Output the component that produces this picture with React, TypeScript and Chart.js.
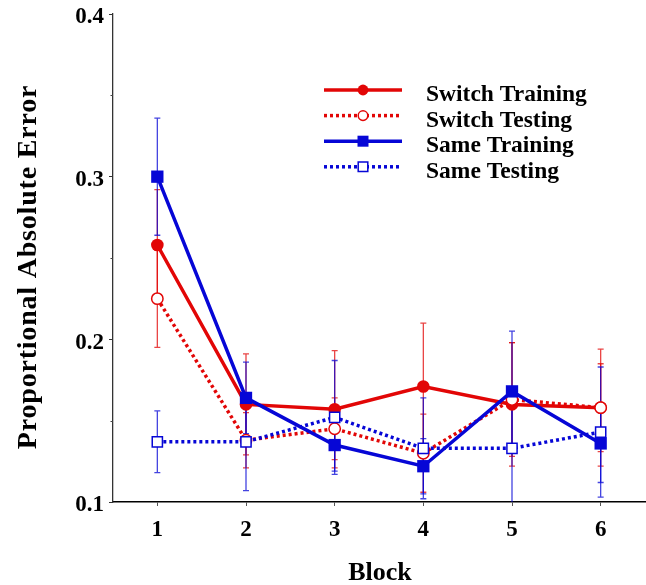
import React, { useEffect, useRef } from 'react';
import { Chart, registerables } from 'chart.js';

Chart.register(...registerables);

const blocks = [1, 2, 3, 4, 5, 6];

const switchTraining = [0.258, 0.160, 0.157, 0.171, 0.160, 0.158];
const switchTrainingErr = [0.034, 0.031, 0.036, 0.039, 0.038, 0.027];

const switchTesting = [0.225, 0.138, 0.145, 0.130, 0.163, 0.158];
const switchTestingErr = [0.030, 0.017, 0.019, 0.024, 0.035, 0.036];

const sameTraining = [0.300, 0.164, 0.135, 0.122, 0.168, 0.136];
const sameTrainingErr = [0.036, 0.022, 0.016, 0.017, 0.037, 0.024];

const sameTesting = [0.137, 0.137, 0.152, 0.133, 0.133, 0.143];
const sameTestingErr = [0.019, 0.030, 0.035, 0.031, 0.035, 0.040];

const xTickLabels = ['1', '2', '3', '4', '5', '6'];
const yTicks = [0.1, 0.2, 0.3, 0.4];
const yMinorTicks = [0.15, 0.25, 0.35];

const xTitle = 'Block';
const yTitle = 'Proportional Absolute Error';

const RED = 'rgb(226,6,6)';
const BLUE = 'rgb(6,6,214)';
const RED_BAR = 'rgba(226,6,6,0.75)';
const BLUE_BAR = 'rgba(6,6,214,0.75)';
const FONT = '"Liberation Serif", "Times New Roman", serif';

type Series = {
  label: string;
  data: number[];
  err: number[];
  color: string;
  barColor: string;
  dashed: boolean;
  filled: boolean;
  style: 'circle' | 'rect';
  order: number;
};

export default function App() {
  const ref = useRef<HTMLCanvasElement>(null);

  useEffect(() => {
    document.body.style.margin = '0';
    const series: Series[] = [
      { label: 'Switch Training', data: switchTraining, err: switchTrainingErr, color: RED, barColor: RED_BAR, dashed: false, filled: true, style: 'circle', order: 3 },
      { label: 'Switch Testing', data: switchTesting, err: switchTestingErr, color: RED, barColor: RED_BAR, dashed: true, filled: false, style: 'circle', order: 2 },
      { label: 'Same Training', data: sameTraining, err: sameTrainingErr, color: BLUE, barColor: BLUE_BAR, dashed: false, filled: true, style: 'rect', order: 1 },
      { label: 'Same Testing', data: sameTesting, err: sameTestingErr, color: BLUE, barColor: BLUE_BAR, dashed: true, filled: false, style: 'rect', order: 0 },
    ];

    const errorBars = {
      id: 'errorBars',
      beforeDatasetsDraw(chart: any) {
        const { ctx, scales, chartArea } = chart;
        const x = scales.x;
        const y = scales.y;
        ctx.save();
        ctx.lineWidth = 1.3;
        series.forEach((s) => {
          ctx.strokeStyle = s.barColor;
          blocks.forEach((b, i) => {
            const px = x.getPixelForValue(b);
            const hi = s.data[i] + s.err[i];
            const lo = s.data[i] - s.err[i];
            const top = y.getPixelForValue(hi);
            const bot = Math.min(y.getPixelForValue(lo), chartArea.bottom);
            ctx.beginPath();
            ctx.moveTo(px, top);
            ctx.lineTo(px, bot);
            ctx.moveTo(px - 3, top);
            ctx.lineTo(px + 3, top);
            if (lo >= 0.1) {
              ctx.moveTo(px - 3, bot);
              ctx.lineTo(px + 3, bot);
            }
            ctx.stroke();
          });
        });
        ctx.restore();
      },
    };

    const extras = {
      id: 'extras',
      afterDraw(chart: any) {
        const { ctx, scales, chartArea } = chart;
        const x = scales.x;
        const y = scales.y;
        ctx.save();
        // minor ticks
        ctx.strokeStyle = '#444';
        ctx.lineWidth = 1;
        yMinorTicks.forEach((v) => {
          const py = Math.round(y.getPixelForValue(v)) + 0.5;
          ctx.beginPath();
          ctx.moveTo(chartArea.left - 2.5, py);
          ctx.lineTo(chartArea.left, py);
          ctx.stroke();
        });
        ctx.fillStyle = '#000';
        ctx.textAlign = 'center';
        ctx.textBaseline = 'alphabetic';
        // x tick labels
        ctx.font = `bold 23px ${FONT}`;
        blocks.forEach((b, i) => {
          ctx.fillText(xTickLabels[i], x.getPixelForValue(b), chartArea.bottom + 33.5);
        });
        // axis titles
        ctx.font = `bold 26px ${FONT}`;
        ctx.fillText(xTitle, 380, 580);
        ctx.save();
        ctx.translate(35.5, 267);
        ctx.rotate(-Math.PI / 2);
        ctx.font = `bold 28px ${FONT}`;
        (ctx as any).letterSpacing = '0.8px';
        ctx.fillText(yTitle, 0, 0);
        ctx.restore();
        // legend
        series.forEach((s, i) => {
          const ly = 90 + i * 25.6;
          ctx.save();
          ctx.strokeStyle = s.color;
          ctx.lineWidth = 3.5;
          ctx.setLineDash(s.dashed ? [3, 3] : []);
          ctx.beginPath();
          ctx.moveTo(324, ly);
          ctx.lineTo(402, ly);
          ctx.stroke();
          ctx.setLineDash([]);
          ctx.fillStyle = s.filled ? s.color : '#fff';
          ctx.lineWidth = 1.5;
          ctx.beginPath();
          if (s.style === 'circle') {
            ctx.arc(363, ly, s.filled ? 5.4 : 4.8, 0, Math.PI * 2);
          } else {
            const h = s.filled ? 5.5 : 4.8;
            ctx.rect(363 - h, ly - h, 2 * h, 2 * h);
          }
          ctx.fill();
          if (!s.filled) ctx.stroke();
          ctx.restore();
          ctx.fillStyle = '#000';
          ctx.textAlign = 'left';
          ctx.font = `bold 23.5px ${FONT}`;
          ctx.fillText(s.label, 426, ly + 11);
        });
        ctx.restore();
      },
    };

    const chart = new Chart(ref.current as HTMLCanvasElement, {
      type: 'line',
      data: {
        datasets: series.map((s) => ({
          label: s.label,
          data: blocks.map((b, i) => ({ x: b, y: s.data[i] })),
          borderColor: s.color,
          backgroundColor: s.color,
          borderWidth: 3.5,
          borderDash: s.dashed ? [3, 3] : [],
          pointStyle: s.style,
          pointRadius: s.style === 'rect' ? (s.filled ? 8.7 : 7.2) : (s.filled ? 6.3 : 5.7),
          pointBackgroundColor: s.filled ? s.color : '#fff',
          pointBorderColor: s.color,
          pointBorderWidth: s.filled ? 0 : 1.5,
          tension: 0,
          fill: false,
          clip: false,
          order: s.order,
        })),
      },
      options: {
        responsive: false,
        animation: false,
        devicePixelRatio: 1,
        layout: { autoPadding: false, padding: { top: 14, right: 1, left: 0, bottom: 0 } },
        plugins: { legend: { display: false }, tooltip: { enabled: false } },
        scales: {
          x: {
            type: 'linear',
            min: 0.5,
            max: 6.5,
            afterBuildTicks: (s: any) => {
              s.ticks = blocks.map((v) => ({ value: v }));
            },
            afterFit: (s: any) => {
              s.height = 83;
              s.paddingLeft = 0;
              s.paddingRight = 0;
            },
            grid: { drawOnChartArea: false, drawTicks: true, tickLength: 4, color: '#555' },
            border: { color: '#000', width: 1.6 },
            ticks: { display: false },
          },
          y: {
            type: 'linear',
            min: 0.1,
            max: 0.4,
            afterBuildTicks: (s: any) => {
              s.ticks = yTicks.map((v) => ({ value: v }));
            },
            afterFit: (s: any) => {
              s.width = 113;
              s.paddingTop = 0;
              s.paddingBottom = 0;
            },
            grid: { drawOnChartArea: false, drawTicks: true, tickLength: 4, color: '#333' },
            border: { color: '#333', width: 1.3 },
            ticks: {
              font: { family: FONT, size: 23, weight: 'bold' },
              color: '#000',
              padding: 5,
              labelOffset: 3.5,
              callback: (v: any) => Number(v).toFixed(1),
            },
          },
        },
      },
      plugins: [errorBars, extras],
    } as any);

    return () => chart.destroy();
  }, []);

  return (
    <canvas
      ref={ref}
      width={646}
      height={585}
      style={{ display: 'block', width: 646, height: 585 }}
    />
  );
}
